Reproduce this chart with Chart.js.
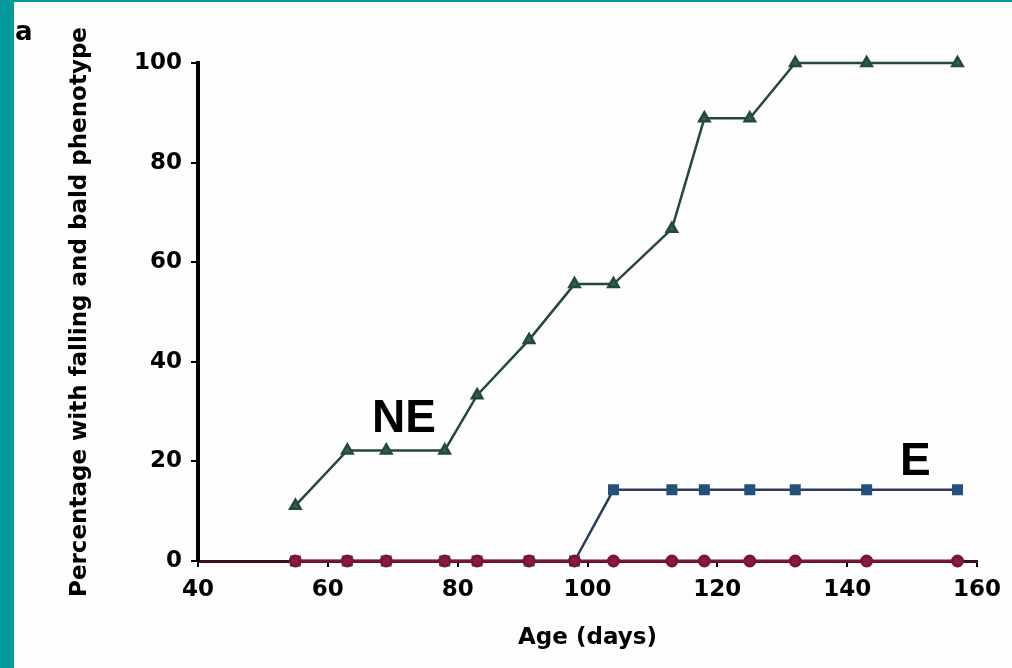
<!DOCTYPE html>
<html>
<head>
<meta charset="utf-8">
<script src="https://cdn.jsdelivr.net/npm/chart.js@4/dist/chart.umd.min.js"></script>
<style>
  html, body { margin: 0; padding: 0; background: #fdfdfd; }
  body { width: 1012px; height: 668px; position: relative; overflow: hidden; }
  #left { position: absolute; left: 0; top: 0; width: 14px; height: 668px; background: #009a9a; }
  #top { position: absolute; left: 0; top: 0; width: 1012px; height: 2px; background: #009a9a; }
  #wrap { position: absolute; left: 0; top: 0; width: 1012px; height: 668px; }
</style>
</head>
<body>
<div id="left"></div>
<div id="top"></div>
<div id="wrap"><canvas id="c" width="1012" height="668"></canvas></div>
<script>
// Age in days (x values)
const ages = [55, 63, 69, 78, 83, 91, 98, 104, 113, 118, 125, 132, 143, 157];
// Percentage with phenotype
const seriesNE = [11.1, 22.2, 22.2, 22.2, 33.3, 44.4, 55.6, 55.6, 66.7, 88.9, 88.9, 100, 100, 100];
const seriesE  = [0, 0, 0, 0, 0, 0, 0, 14.3, 14.3, 14.3, 14.3, 14.3, 14.3, 14.3];
const seriesWT = [0, 0, 0, 0, 0, 0, 0, 0, 0, 0, 0, 0, 0, 0];
const xTicks = [40, 60, 80, 100, 120, 140, 160];
const yTicks = [0, 20, 40, 60, 80, 100];
const seriesNames = ['NE', 'E', 'WT'];
const xTitle = 'Age (days)';
const yTitle = 'Percentage with falling and bald phenotype';
const panelLabel = 'a';

const pts = (vals) => ages.map((a, i) => ({ x: a, y: vals[i] }));

const labelPlugin = {
  id: 'labels',
  afterDraw(chart) {
    const { ctx, scales: { x, y } } = chart;
    ctx.save();
    ctx.fillStyle = '#000';
    ctx.textBaseline = 'alphabetic';
    ctx.font = 'bold 46px "Liberation Sans", Arial, sans-serif';
    ctx.textAlign = 'left';
    ctx.fillText(seriesNames[0], x.getPixelForValue(66.8), y.getPixelForValue(25.9));
    ctx.textAlign = 'center';
    ctx.fillText(seriesNames[1], x.getPixelForValue(150.5), y.getPixelForValue(17.3));
    ctx.textAlign = 'left';
    ctx.font = 'bold 26px "DejaVu Sans", sans-serif';
    ctx.fillText(panelLabel, 15, 40);
    ctx.restore();
  }
};

const tickFont = { family: '"DejaVu Sans", sans-serif', size: 23, weight: 'bold' };

new Chart(document.getElementById('c'), {
  type: 'line',
  data: {
    datasets: [
      {
        label: seriesNames[0], data: pts(seriesNE),
        borderColor: '#24493c', backgroundColor: '#2f5f4f',
        borderWidth: 2.5, pointStyle: 'triangle', pointRadius: 6,
        pointBorderColor: '#24493c', pointBackgroundColor: '#2f5f4f', clip: false, order: 3
      },
      {
        label: seriesNames[1], data: pts(seriesE),
        borderColor: '#2b3c60', backgroundColor: '#24507a',
        borderWidth: 2.5, pointStyle: 'rect', pointRadius: 6,
        pointBorderColor: '#24507a', pointBackgroundColor: '#24507a', clip: false, order: 2
      },
      {
        label: seriesNames[2], data: pts(seriesWT),
        borderColor: '#7a1536', backgroundColor: '#7a1536',
        borderWidth: 3, pointStyle: 'circle', pointRadius: 5,
        pointBorderColor: '#7a1536', pointBackgroundColor: '#8a1a40', clip: false, order: 1
      }
    ]
  },
  options: {
    responsive: false,
    animation: false,
    devicePixelRatio: 1,
    layout: { padding: { left: 0, right: 35, top: 63, bottom: 0 } },
    plugins: { legend: { display: false }, tooltip: { enabled: false } },
    elements: { line: { tension: 0 } },
    scales: {
      x: {
        type: 'linear', min: 40, max: 160,
        afterBuildTicks: (s) => { s.ticks = xTicks.map(v => ({ value: v })); },
        afterFit: (s) => { s.height = 107; },
        grid: { display: true, drawOnChartArea: false, drawTicks: true, tickLength: 6, color: '#000', lineWidth: 2 },
        border: { display: true, color: '#3a1020', width: 3 },
        ticks: { color: '#000', font: tickFont, padding: 9, maxRotation: 0 },
        title: { display: true, text: xTitle, color: '#000',
          font: { family: '"DejaVu Sans", sans-serif', size: 23, weight: 'bold' },
          padding: { top: 0, bottom: 16 } }
      },
      y: {
        type: 'linear', min: 0, max: 100,
        afterBuildTicks: (s) => { s.ticks = yTicks.map(v => ({ value: v })); },
        afterFit: (s) => { s.width = 198; },
        grid: { display: true, drawOnChartArea: false, drawTicks: true, tickLength: 7, color: '#000', lineWidth: 2 },
        border: { display: true, color: '#000', width: 4 },
        ticks: { color: '#000', font: tickFont, padding: 9 },
        title: { display: true, text: yTitle, color: '#000',
          font: { family: '"DejaVu Sans", sans-serif', size: 23, weight: 'bold' },
          padding: { top: 66, bottom: 0 } }
      }
    }
  },
  plugins: [labelPlugin]
});
</script>
</body>
</html>
